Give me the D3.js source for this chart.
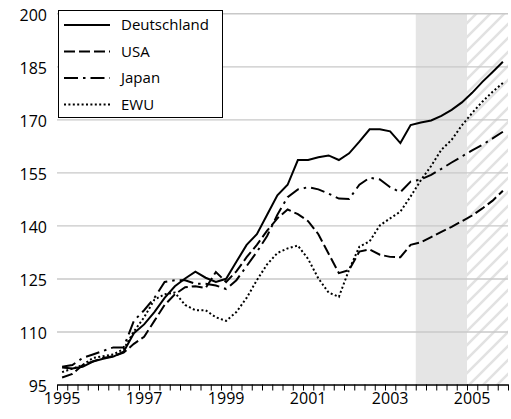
<!DOCTYPE html>
<html>
<head>
<meta charset="utf-8">
<script src="https://cdn.jsdelivr.net/npm/d3@7"></script>
<style>
  body { margin: 0; background: #fff; }
  svg { display: block; font-family: "Open Sans", sans-serif; }
</style>
</head>
<body>
<svg></svg>
<script>
// quarters from 1995 to 2005
let years = [1995, 1996, 1997, 1998, 1999, 2000, 2001, 2002, 2003, 2004, 2005]
let quarterNames = ["Q1", "Q2", "Q3", "Q4"]
let categories = years.flatMap(y => quarterNames.map(q => y + q))

// series values, one per quarter
let deutschland = [99.8, 99.5, 100, 101.5, 102.3, 102.9, 104.3, 109.5, 112, 115.5, 119.5, 122.8,
    125, 126.9, 125.2, 124, 124.9, 129.7, 134.5, 137.5, 143, 148.5, 151.5, 158.5,
    158.5, 159.3, 159.8, 158.5, 160.4, 163.7, 167.2, 167.2, 166.6, 163.3, 168.4, 169.1,
    169.7, 171, 172.7, 174.8, 177.5, 180.6, 183.4, 186.3]
let usa = [97, 98, 100.5, 101.5, 102.5, 103, 104, 106.5, 108.5, 113, 117.5, 120.5,
    122.5, 122.8, 122.3, 126.8, 124, 127, 131, 134.5, 138.5, 142, 144.5, 143.2,
    141.2, 137.5, 132, 126.5, 127.4, 132.6, 133.2, 131.7, 131.1, 131, 134.5, 135.2,
    136.7, 138.2, 139.6, 141.2, 142.8, 144.8, 147, 149.8]
let japan = [100, 100.5, 102.5, 103.5, 104.5, 105.5, 105.5, 113, 116, 119.5, 124, 124.5,
    124.5, 123.5, 123.5, 123, 122, 124.5, 128.5, 132.5, 137, 143, 148, 150.2,
    150.8, 150.2, 149, 147.6, 147.5, 151.5, 153.5, 153, 150.8, 149.4, 152.4, 153,
    154.3, 156, 157.8, 159.5, 161.2, 162.8, 164.6, 166.5]
let ewu = [98.5, 99.5, 100.5, 102.5, 103, 103.5, 105, 110, 114, 119, 120.5, 121,
    117.5, 116, 116, 114, 113, 115.5, 119.5, 124.5, 129, 132.2, 133.5, 134.3,
    130.5, 125, 121, 119.8, 127.5, 134, 135.5, 140, 142, 143.9, 148.2, 152.8,
    156.8, 161.4, 164.2, 168.3, 171.8, 175, 177.8, 180.3]

let yTicks = [95, 110, 125, 140, 155, 170, 185, 200]
let xLabels = ["1995Q1", "1997Q1", "1999Q1", "2001Q1", "2003Q1", "2005Q1"]

// shaded (gray) and hatched periods
let shadeStart = "2003Q4"
let hatchStart = "2005Q1"

let series = [
    {name: "Deutschland", values: deutschland, dash: null},
    {name: "USA", values: usa, dash: "11,4"},
    {name: "Japan", values: japan, dash: "14,5,2.5,5"},
    {name: "EWU", values: ewu, dash: "2,2.4"}
]

let width = 511
let height = 419
let plotLeft = 57
let plotRight = 508
let plotTop = 13.3
let plotBottom = 384.5

let svg = d3.select("svg")
    .attr("width", width)
    .attr("height", height)

let xScale = d3.scaleBand()
    .domain(categories)
    .range([plotLeft, plotRight])

let xTickScale = d3.scaleLinear()
    .domain([0, categories.length])
    .range([plotLeft, plotRight])

let yScale = d3.scaleLinear()
    .domain([95, 200])
    .range([plotBottom, plotTop])

// hatch pattern for the last year
let defs = svg.append("defs")
let pat = defs.append("pattern")
    .attr("id", "hatch")
    .attr("patternUnits", "userSpaceOnUse")
    .attr("width", 14)
    .attr("height", 14)
pat.append("path")
    .attr("d", "M-2,2 l4,-4 M0,14 l14,-14 M12,16 l4,-4")
    .attr("stroke", "#e2e2e2")
    .attr("stroke-width", 2.6)

svg.append("rect")
    .attr("x", xScale(shadeStart))
    .attr("y", plotTop)
    .attr("width", xScale(hatchStart) - xScale(shadeStart))
    .attr("height", plotBottom - plotTop)
    .attr("fill", "#e5e5e5")

svg.append("rect")
    .attr("x", xScale(hatchStart))
    .attr("y", plotTop)
    .attr("width", plotRight - xScale(hatchStart))
    .attr("height", plotBottom - plotTop)
    .attr("fill", "url(#hatch)")

// gridlines + y labels
let yAxis = svg.append("g")
    .attr("transform", "translate(" + plotLeft + ",0)")
    .call(d3.axisLeft(yScale).tickValues(yTicks).tickSize(-(plotRight - plotLeft)).tickPadding(10))
yAxis.select(".domain").remove()
yAxis.selectAll(".tick line")
    .attr("stroke", "#c8c8c8")
    .attr("stroke-width", 1.4)
yAxis.selectAll(".tick text")
    .attr("font-size", 16)
    .attr("fill", "#000")
    .attr("font-family", "Open Sans")
    .attr("dy", "0.42em")
yAxis.selectAll(".tick").filter(d => d === 95).select("line").remove()

// lines
let line = d3.line()
    .x((d, i) => xScale(categories[i]) + xScale.bandwidth() / 2)
    .y(d => yScale(d))

svg.selectAll(".series")
    .data(series)
    .enter()
    .append("path")
    .attr("class", "series")
    .attr("d", d => line(d.values))
    .attr("fill", "none")
    .attr("stroke", "#000")
    .attr("stroke-width", 2)
    .attr("stroke-dasharray", d => d.dash)

// x axis: quarter ticks
let xAxis = svg.append("g")
    .attr("transform", "translate(0," + plotBottom + ")")
    .call(d3.axisBottom(xTickScale).tickValues(d3.range(categories.length + 1)).tickSize(6).tickSizeOuter(0).tickFormat(""))
xAxis.select(".domain").attr("stroke-width", 1.5)

// x labels on first quarter of odd years
let xLab = svg.append("g")
    .attr("transform", "translate(0," + plotBottom + ")")
    .call(d3.axisBottom(xScale).tickValues(xLabels).tickSize(0).tickPadding(8).tickFormat(d => d.slice(0, 4)))
xLab.select(".domain").remove()
xLab.selectAll("text")
    .attr("font-size", 16)
    .attr("fill", "#000")
    .attr("font-family", "Open Sans")

// legend
let legend = svg.append("g")
legend.append("rect")
    .attr("x", 58.5)
    .attr("y", 10.5)
    .attr("width", 164)
    .attr("height", 107)
    .attr("fill", "#fff")
    .attr("stroke", "#000")
    .attr("stroke-width", 1)

let rows = legend.selectAll(".row")
    .data(series)
    .enter()
    .append("g")
    .attr("transform", (d, i) => "translate(0," + (25 + i * 26.5) + ")")
rows.append("line")
    .attr("x1", 64)
    .attr("x2", 110)
    .attr("stroke", "#000")
    .attr("stroke-width", 2)
    .attr("stroke-dasharray", d => d.dash)
rows.append("text")
    .attr("x", 121)
    .attr("dy", "0.36em")
    .attr("font-size", 15)
    .attr("fill", "#000")
    .text(d => d.name)
</script>
</body>
</html>
